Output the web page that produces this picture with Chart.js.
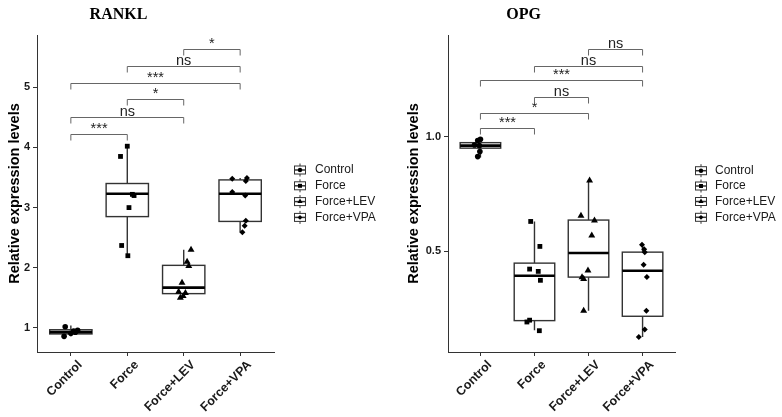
<!DOCTYPE html>
<html>
<head>
<meta charset="utf-8">
<script src="https://cdn.jsdelivr.net/npm/chart.js@4/dist/chart.umd.min.js"></script>
<style>
html,body{margin:0;padding:0;background:#ffffff;}
#wrap{position:relative;width:782px;height:417px;overflow:hidden;}
canvas{position:absolute;top:0;}
</style>
</head>
<body>
<div id="wrap">
<canvas id="c1" width="391" height="417" style="left:0px"></canvas>
<canvas id="c2" width="391" height="417" style="left:391px"></canvas>
</div>
<script>
// ---------- shared ----------
const categories = ['Control', 'Force', 'Force+LEV', 'Force+VPA'];
const pointStyles = ['circle', 'rect', 'triangle', 'rectRot'];

// ---------- RANKL ----------
const rankTicks = [1, 2, 3, 4, 5];
const rankTickLabels = ['1', '2', '3', '4', '5'];
const rankLow  = [0.86, 2.20, 1.50, 2.59];
const rankQ1   = [0.90, 2.85, 1.57, 2.77];
const rankMed  = [0.93, 3.23, 1.67, 3.23];
const rankQ3   = [0.97, 3.40, 2.04, 3.46];
const rankHigh = [1.04, 4.02, 2.30, 3.49];
const rankControl    = [1.02, 0.86, 0.93, 0.95, 0.96, 0.91];
const rankControlJit = [-0.10, -0.12, 0.08, 0.05, 0.12, 0.00];
const rankForce      = [4.02, 3.85, 3.22, 3.20, 3.00, 2.37, 2.20];
const rankForceJit   = [0.00, -0.12, 0.09, 0.12, 0.03, -0.10, 0.01];
const rankLev        = [2.30, 2.10, 2.03, 1.75, 1.60, 1.58, 1.50, 1.53];
const rankLevJit     = [0.13, 0.06, 0.09, -0.03, -0.09, 0.03, -0.06, -0.01];
const rankVpa        = [3.48, 3.49, 3.44, 3.26, 3.20, 2.78, 2.70, 2.59];
const rankVpaJit     = [-0.14, 0.12, 0.10, -0.14, 0.09, 0.10, 0.08, 0.04];
const rankSigFrom  = [1, 1, 2, 1, 2, 3];
const rankSigTo    = [2, 3, 3, 4, 4, 4];
const rankSigY     = [4.22, 4.51, 4.80, 5.07, 5.36, 5.64];
const rankSigLabel = ['***', 'ns', '*', '***', 'ns', '*'];

// ---------- OPG ----------
const opgTicks = [0.5, 1.0];
const opgTickLabels = ['0.5', '1.0'];
const opgLow  = [0.910, 0.156, 0.241, 0.127];
const opgQ1   = [0.951, 0.198, 0.388, 0.217];
const opgMed  = [0.962, 0.394, 0.493, 0.416];
const opgQ3   = [0.975, 0.449, 0.637, 0.497];
const opgHigh = [0.990, 0.631, 0.810, 0.529];
const opgControl    = [0.984, 0.990, 0.965, 0.962, 0.936, 0.914];
const opgControlJit = [-0.05, 0.00, -0.11, -0.02, -0.01, -0.05];
const opgForce      = [0.631, 0.522, 0.423, 0.413, 0.374, 0.192, 0.200, 0.154];
const opgForceJit   = [-0.07, 0.10, -0.09, 0.07, 0.11, -0.14, -0.09, 0.09];
const opgLev        = [0.810, 0.656, 0.635, 0.570, 0.417, 0.387, 0.380, 0.241];
const opgLevJit     = [0.02, -0.14, 0.11, 0.06, -0.01, -0.12, -0.09, -0.09];
const opgVpa        = [0.529, 0.510, 0.497, 0.442, 0.388, 0.241, 0.159, 0.127];
const opgVpaJit     = [-0.01, 0.03, 0.04, 0.02, 0.08, 0.07, 0.04, -0.07];
const opgSigFrom  = [1, 1, 2, 1, 2, 3];
const opgSigTo    = [2, 3, 3, 4, 4, 4];
const opgSigY     = [1.038, 1.106, 1.173, 1.247, 1.311, 1.382];
const opgSigLabel = ['***', '*', 'ns', '***', 'ns', 'ns'];

// ---------- drawing helpers ----------
const SANS = '"Liberation Sans", Arial, sans-serif';
const SERIF = '"Liberation Serif", "Times New Roman", serif';

function groupData(vals, jit, idx) {
  return vals.map((v, k) => ({ x: idx + 1 + jit[k], y: v }));
}

function makePanel(canvasId, p) {
  const datasets = p.groups.map((g, i) => ({
    label: categories[i],
    data: groupData(g[0], g[1], i),
    pointStyle: pointStyles[i],
    pointRadius: p.radii[i],
    pointHoverRadius: p.radii[i],
    backgroundColor: '#000000',
    borderColor: '#000000',
    borderWidth: 0,
    showLine: false
  }));

  const panelPlugin = {
    id: 'panel_' + canvasId,
    beforeDatasetsDraw(chart) {
      const ctx = chart.ctx, xs = chart.scales.x, ys = chart.scales.y;
      const half = xs.getPixelForValue(1.375) - xs.getPixelForValue(1);
      ctx.save();
      for (let i = 0; i < categories.length; i++) {
        const cx = xs.getPixelForValue(i + 1);
        const yq1 = ys.getPixelForValue(p.q1[i]);
        const yq3 = ys.getPixelForValue(p.q3[i]);
        const ymed = ys.getPixelForValue(p.med[i]);
        const ylo = ys.getPixelForValue(p.low[i]);
        const yhi = ys.getPixelForValue(p.high[i]);
        ctx.strokeStyle = '#333333';
        ctx.lineWidth = 1.4;
        ctx.beginPath();
        ctx.moveTo(cx, yq3); ctx.lineTo(cx, yhi);
        ctx.moveTo(cx, yq1); ctx.lineTo(cx, ylo);
        ctx.stroke();
        ctx.fillStyle = '#ffffff';
        ctx.fillRect(cx - half, yq3, 2 * half, yq1 - yq3);
        ctx.strokeRect(cx - half, yq3, 2 * half, yq1 - yq3);
        ctx.strokeStyle = '#000000';
        ctx.lineWidth = 2.6;
        ctx.beginPath();
        ctx.moveTo(cx - half, ymed); ctx.lineTo(cx + half, ymed);
        ctx.stroke();
      }
      ctx.restore();
    },
    afterDraw(chart) {
      const ctx = chart.ctx, xs = chart.scales.x, ys = chart.scales.y;
      ctx.save();
      // significance brackets
      const tip = 6;
      for (let k = 0; k < p.sigFrom.length; k++) {
        const x1 = xs.getPixelForValue(p.sigFrom[k]);
        const x2 = xs.getPixelForValue(p.sigTo[k]);
        const y = Math.round(ys.getPixelForValue(p.sigY[k])) + 0.5;
        ctx.strokeStyle = '#666666';
        ctx.lineWidth = 1;
        ctx.beginPath();
        ctx.moveTo(x1, y + tip); ctx.lineTo(x1, y); ctx.lineTo(x2, y); ctx.lineTo(x2, y + tip);
        ctx.stroke();
        ctx.fillStyle = '#222222';
        ctx.font = '14.5px ' + SANS;
        ctx.textAlign = 'center';
        ctx.textBaseline = 'alphabetic';
        ctx.fillText(p.sigLabel[k], (x1 + x2) / 2, y - 2);
      }
      // title
      ctx.fillStyle = '#000000';
      ctx.font = 'bold 16px ' + SERIF;
      ctx.textAlign = 'center';
      ctx.textBaseline = 'alphabetic';
      ctx.fillText(p.title, p.titleX, 19);
      // y title
      ctx.save();
      ctx.translate(p.yTitleX, (chart.chartArea.top + chart.chartArea.bottom) / 2);
      ctx.rotate(-Math.PI / 2);
      ctx.font = 'bold 14.5px ' + SANS;
      ctx.textAlign = 'center';
      ctx.textBaseline = 'middle';
      ctx.fillText('Relative expression levels', 0, 0);
      ctx.restore();
      // x tick labels
      ctx.font = 'bold 12.5px ' + SANS;
      ctx.fillStyle = '#1a1a1a';
      for (let i = 0; i < categories.length; i++) {
        const px = xs.getPixelForValue(i + 1);
        ctx.save();
        ctx.translate(px + 5, chart.chartArea.bottom + 6.5);
        ctx.rotate(-Math.PI / 4);
        ctx.textAlign = 'right';
        ctx.textBaseline = 'top';
        ctx.fillText(categories[i], 0, 0);
        ctx.restore();
      }
      // legend
      for (let i = 0; i < categories.length; i++) {
        const cy = p.legendY[i];
        const cx = p.legendIconX;
        ctx.strokeStyle = '#333333';
        ctx.lineWidth = 1;
        ctx.beginPath();
        ctx.moveTo(cx, cy - 6.5); ctx.lineTo(cx, cy - 4);
        ctx.moveTo(cx, cy + 4); ctx.lineTo(cx, cy + 6.5);
        ctx.stroke();
        ctx.strokeRect(cx - 5.5, cy - 4, 11, 8);
        ctx.lineWidth = 1.5;
        ctx.beginPath();
        ctx.moveTo(cx - 5.5, cy); ctx.lineTo(cx + 5.5, cy);
        ctx.stroke();
        ctx.fillStyle = '#000000';
        Chart.helpers.drawPoint(ctx, { pointStyle: pointStyles[i], radius: p.legendRadii[i], rotation: 0, borderWidth: 0 }, cx, cy);
        ctx.fillStyle = '#1a1a1a';
        ctx.font = '12px ' + SANS;
        ctx.textAlign = 'left';
        ctx.textBaseline = 'middle';
        ctx.fillText(categories[i], p.legendTextX, cy);
      }
      ctx.restore();
    }
  };

  return new Chart(document.getElementById(canvasId), {
    type: 'scatter',
    data: { datasets },
    options: {
      responsive: false,
      animation: false,
      devicePixelRatio: 1,
      layout: { padding: { left: 0, top: p.top, right: p.padRight, bottom: 0 } },
      plugins: { legend: { display: false }, tooltip: { enabled: false }, title: { display: false } },
      scales: {
        x: {
          type: 'linear',
          min: 0.4, max: 4.6,
          afterBuildTicks: (s) => { s.ticks = categories.map((c, i) => ({ value: i + 1 })); },
          ticks: { display: false },
          grid: { display: true, drawOnChartArea: false, drawTicks: true, tickLength: 4, tickColor: '#333333', tickWidth: 1 },
          border: { display: true, color: '#333333', width: 1 },
          afterFit: (s) => { s.height = p.xAxisH; }
        },
        y: {
          type: 'linear',
          min: p.yMin, max: p.yMax,
          afterBuildTicks: (s) => { s.ticks = p.ticks.map(v => ({ value: v })); },
          ticks: {
            callback: (v, idx) => p.tickLabels[idx],
            font: { family: SANS, size: 11, weight: 'bold' },
            color: '#1a1a1a',
            padding: 3
          },
          grid: { display: true, drawOnChartArea: false, drawTicks: true, tickLength: 4, tickColor: '#333333', tickWidth: 1 },
          border: { display: true, color: '#333333', width: 1 },
          afterFit: (s) => { s.width = p.yAxisW; }
        }
      }
    },
    plugins: [panelPlugin]
  });
}

makePanel('c1', {
  title: 'RANKL', titleX: 118.5, yTitleX: 15,
  top: 35, padRight: 117, xAxisH: 65, yAxisW: 37,
  yMin: 0.60, yMax: 5.868,
  ticks: rankTicks, tickLabels: rankTickLabels,
  low: rankLow, q1: rankQ1, med: rankMed, q3: rankQ3, high: rankHigh,
  groups: [[rankControl, rankControlJit], [rankForce, rankForceJit], [rankLev, rankLevJit], [rankVpa, rankVpaJit]],
  radii: [2.8, 3.4, 4.0, 3.0],
  sigFrom: rankSigFrom, sigTo: rankSigTo, sigY: rankSigY, sigLabel: rankSigLabel,
  legendY: [170, 185.8, 201.6, 217.4], legendIconX: 300, legendTextX: 315,
  legendRadii: [2.2, 2.8, 3.0, 2.4]
});

makePanel('c2', {
  title: 'OPG', titleX: 132.7, yTitleX: 22.8,
  top: 35, padRight: 107, xAxisH: 65, yAxisW: 57,
  yMin: 0.061, yMax: 1.445,
  ticks: opgTicks, tickLabels: opgTickLabels,
  low: opgLow, q1: opgQ1, med: opgMed, q3: opgQ3, high: opgHigh,
  groups: [[opgControl, opgControlJit], [opgForce, opgForceJit], [opgLev, opgLevJit], [opgVpa, opgVpaJit]],
  radii: [2.8, 3.4, 4.0, 3.0],
  sigFrom: opgSigFrom, sigTo: opgSigTo, sigY: opgSigY, sigLabel: opgSigLabel,
  legendY: [170.7, 186, 201.5, 217.3], legendIconX: 310, legendTextX: 324,
  legendRadii: [2.2, 2.8, 3.0, 2.4]
});
</script>
</body>
</html>
